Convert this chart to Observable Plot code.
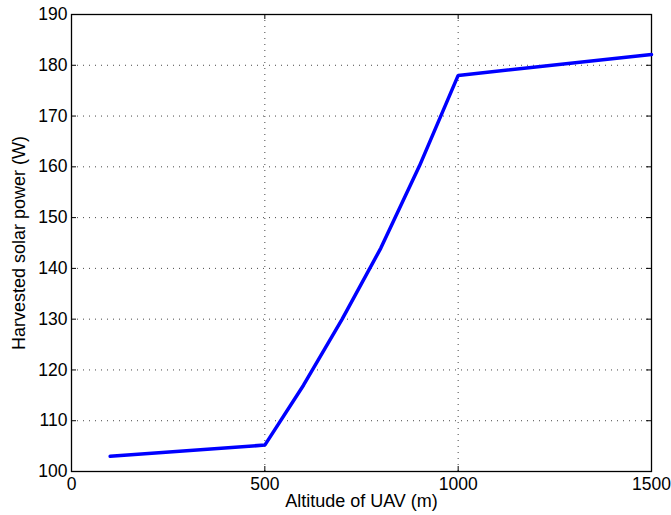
<!DOCTYPE html>
<html>
<head>
<meta charset="utf-8">
<script src="https://cdn.jsdelivr.net/npm/d3@7"></script>
<script src="https://cdn.jsdelivr.net/npm/@observablehq/plot@0.6"></script>
<style>
  html, body { margin: 0; padding: 0; background: #fff; }
  #chart svg { display: block; }
</style>
</head>
<body>
<div id="chart"></div>
<script>
// Harvested solar power versus UAV altitude
const altitudes = [100, 500, 600, 700, 800, 900, 1000, 1500];
const powers = [103.0, 105.2, 117.0, 130.0, 144.0, 160.2, 178.0, 182.1];
const xTicks = [0, 500, 1000, 1500];
const yTicks = [100, 110, 120, 130, 140, 150, 160, 170, 180, 190];
const xLabel = "Altitude of UAV (m)";
const yLabel = "Harvested solar power (W)";

const W = 671, H = 515;
const mL = 71, mR = 20, mT = 14, mB = 44;
const innerW = W - mL - mR, innerH = H - mT - mB;
const tickLen = 5;

const data = altitudes.map((a, i) => ({altitude: a, power: powers[i]}));

const chart = Plot.plot({
  width: W,
  height: H,
  marginLeft: mL,
  marginRight: mR,
  marginTop: mT,
  marginBottom: mB,
  style: {fontFamily: "'Liberation Sans', Arial, Helvetica, sans-serif", fontSize: "17px", background: "#fff", color: "#000"},
  x: {domain: [0, 1500]},
  y: {domain: [100, 190]},
  marks: [
    // dotted grid
    Plot.gridX(xTicks, {stroke: "#333", strokeOpacity: 0.9, strokeWidth: 1, strokeDasharray: "1,5"}),
    Plot.gridY(yTicks, {stroke: "#333", strokeOpacity: 0.9, strokeWidth: 1, strokeDasharray: "1,5"}),
    // inward ticks on all four sides
    Plot.tickX(xTicks, {x: d => d, stroke: "#000", insetTop: innerH - tickLen}),
    Plot.tickX(xTicks, {x: d => d, stroke: "#000", insetBottom: innerH - tickLen}),
    Plot.tickY(yTicks, {y: d => d, stroke: "#000", insetRight: innerW - tickLen}),
    Plot.tickY(yTicks, {y: d => d, stroke: "#000", insetLeft: innerW - tickLen}),
    Plot.frame({stroke: "#000", strokeWidth: 1.3}),
    Plot.line(data, {x: "altitude", y: "power", stroke: "#0000ff", strokeWidth: 3.5, strokeLinejoin: "miter"}),
    Plot.axisX(xTicks, {anchor: "bottom", tickSize: 0, tickPadding: 6, label: null, fontSize: 17.5, tickFormat: d3.format("d")}),
    Plot.axisY(yTicks, {anchor: "left", tickSize: 0, tickPadding: 4, label: null, fontSize: 17.5, tickFormat: d3.format("d")}),
    Plot.text([xLabel], {frameAnchor: "bottom", textAnchor: "middle", dy: 35, text: d => d, fontSize: 18, fill: "#000"}),
    Plot.text([yLabel], {frameAnchor: "left", textAnchor: "middle", dx: -52, rotate: -90, text: d => d, fontSize: 18, fill: "#000"})
  ]
});

document.getElementById("chart").appendChild(chart);
</script>
</body>
</html>
